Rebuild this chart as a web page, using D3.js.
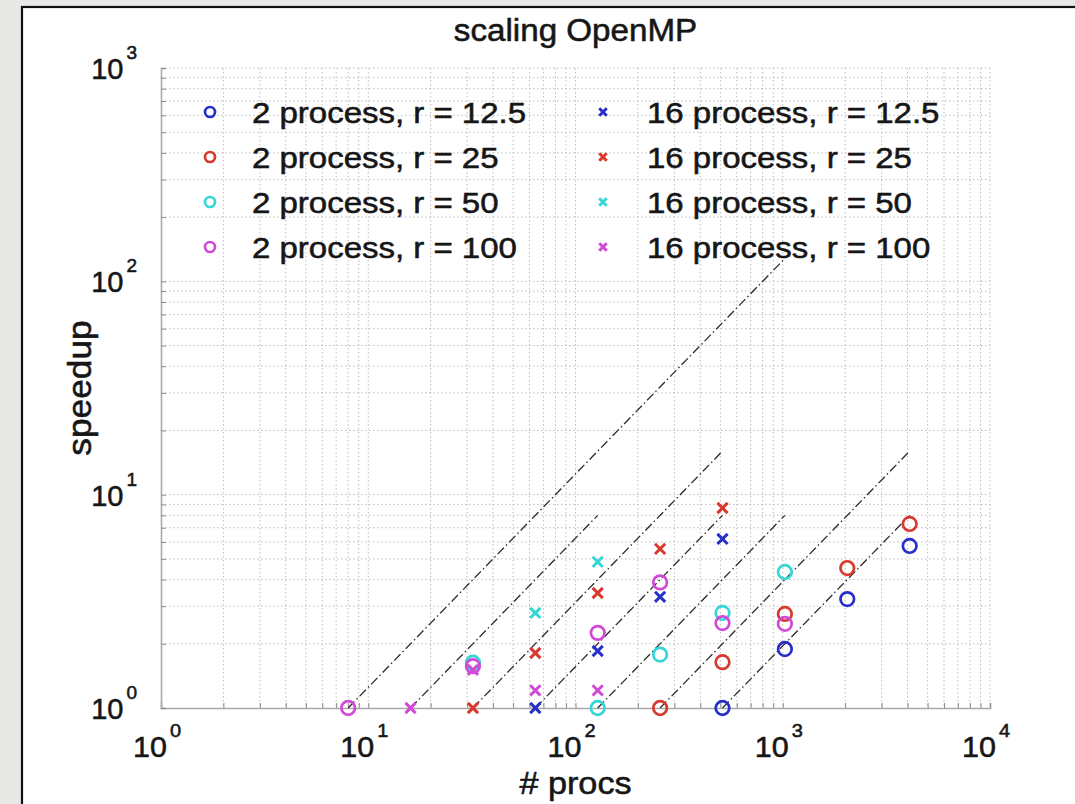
<!DOCTYPE html>
<html>
<head>
<meta charset="utf-8">
<script src="https://cdn.jsdelivr.net/npm/d3@7"></script>
<style>
  html, body { margin: 0; padding: 0; background: #e8e9e7; }
  svg { display: block; }
  text { font-family: "Liberation Sans", Arial, Helvetica, sans-serif; fill: #161616; stroke: #161616; stroke-width: 0.55px; }
</style>
</head>
<body>
<svg id="chart" width="1075" height="804"></svg>
<script>
// ---- data -------------------------------------------------------------
const xTickValues = [1, 10, 100, 1000, 10000];
const yTickValues = [1, 10, 100, 1000];
const xTickExponents = ["0", "1", "2", "3", "4"];
const yTickExponents = ["0", "1", "2", "3"];

const seriesLabels = [
  "2 process, r = 12.5", "2 process, r = 25", "2 process, r = 50", "2 process, r = 100",
  "16 process, r = 12.5", "16 process, r = 25", "16 process, r = 50", "16 process, r = 100"
];
const seriesColors = ["#2630c8", "#d8392e", "#35d6d8", "#d14ad6",
                      "#2630c8", "#d8392e", "#35d6d8", "#d14ad6"];
const seriesMarkers = ["o", "o", "o", "o", "x", "x", "x", "x"];

// 2 process runs
const procs2r12  = [512, 1024, 2048, 4096];
const speed2r12  = [1.0, 1.89, 3.24, 5.75];
const procs2r25  = [256, 512, 1024, 2048, 4096];
const speed2r25  = [1.0, 1.64, 2.76, 4.53, 7.29];
const procs2r50  = [32, 128, 256, 512, 1024];
const speed2r50  = [1.63, 1.0, 1.78, 2.79, 4.34];
const procs2r100 = [8, 32, 128, 256, 512, 1024];
const speed2r100 = [1.0, 1.57, 2.25, 3.88, 2.50, 2.48];

// 16 process runs
const procs16r12  = [64, 128, 256, 512];
const speed16r12  = [1.0, 1.85, 3.32, 6.20];
const procs16r25  = [32, 64, 128, 256, 512];
const speed16r25  = [1.0, 1.81, 3.46, 5.57, 8.66];
const procs16r50  = [64, 128];
const speed16r50  = [2.79, 4.84];
const procs16r100 = [16, 32, 64, 128];
const speed16r100 = [1.0, 1.51, 1.21, 1.21];

// ideal (linear) speedup references: start and end processor counts
const idealStart = [8, 16, 32, 64, 128, 256, 512];
const idealEnd   = [1024, 128, 512, 512, 1024, 4096, 4096];

const seriesProcs = [procs2r12, procs2r25, procs2r50, procs2r100,
                     procs16r12, procs16r25, procs16r50, procs16r100];
const seriesSpeed = [speed2r12, speed2r25, speed2r50, speed2r100,
                     speed16r12, speed16r25, speed16r50, speed16r100];

// ---- layout -----------------------------------------------------------
const svg = d3.select("#chart");
const plotLeft = 161, plotRight = 990, plotTop = 68, plotBottom = 708;

const x = d3.scaleLog().domain([1, 10000]).range([plotLeft, plotRight]);
const y = d3.scaleLog().domain([1, 1000]).range([plotBottom, plotTop]);

// figure panel
svg.append("rect").attr("x", 22).attr("y", 7).attr("width", 1100).attr("height", 900)
  .attr("fill", "#ffffff").attr("stroke", "#111").attr("stroke-width", 2.2);

// text drawn with a slight horizontal widening
function wideText(parent, tx, ty, str, size, anchor, stretch, rotate) {
  const g = parent.append("g")
    .attr("transform", `translate(${tx},${ty})` + (rotate ? ` rotate(${rotate})` : "") + ` scale(${stretch},1)`);
  return g.append("text").attr("text-anchor", anchor).attr("font-size", size).text(str);
}

// ---- grid -------------------------------------------------------------
const xGridValues = x.ticks();
const yGridValues = y.ticks();
const grid = svg.append("g").attr("stroke", "#bdbdbd").attr("stroke-width", 1)
  .attr("stroke-dasharray", "1.5,2.5").attr("fill", "none");
grid.selectAll("line.gx").data(xGridValues.filter(v => v > 1)).join("line")
  .attr("x1", d => x(d)).attr("x2", d => x(d)).attr("y1", plotTop).attr("y2", plotBottom);
grid.selectAll("line.gy").data(yGridValues.filter(v => v > 1)).join("line")
  .attr("y1", d => y(d)).attr("y2", d => y(d)).attr("x1", plotLeft).attr("x2", plotRight);

// ---- axes -------------------------------------------------------------
const xAxis = svg.append("g").attr("transform", `translate(0,${plotBottom})`)
  .call(d3.axisBottom(x).tickValues(xGridValues).tickSize(-5).tickFormat(""));
const yAxis = svg.append("g").attr("transform", `translate(${plotLeft},0)`)
  .call(d3.axisLeft(y).tickValues(yGridValues).tickSize(-5).tickFormat(""));
[xAxis, yAxis].forEach(a => {
  a.select(".domain").attr("stroke", "#a9a9a9").attr("stroke-width", 1.6);
  a.selectAll(".tick line").attr("stroke", "#8a8a8a").attr("stroke-width", 1);
});

// tick labels: 10 with superscript exponent
xTickValues.forEach((v, i) => {
  const t = wideText(svg, x(v) - 4, plotBottom + 49, "", 29, "middle", 1.05);
  t.append("tspan").text("10");
  t.append("tspan").attr("font-size", 19).attr("dx", 3).attr("dy", -20).text(xTickExponents[i]);
});
yTickValues.forEach((v, i) => {
  const t = wideText(svg, plotLeft - 24, y(v) + 11, "", 29, "end", 1.0);
  t.append("tspan").text("10");
  t.append("tspan").attr("font-size", 19).attr("dx", 3).attr("dy", -20).text(yTickExponents[i]);
});

// ---- titles -----------------------------------------------------------
wideText(svg, (plotLeft + plotRight) / 2, 41, "scaling OpenMP", 31, "middle", 1.07);
wideText(svg, (plotLeft + plotRight) / 2, 794, "# procs", 32, "middle", 1.07);
wideText(svg, 91, 388, "speedup", 33, "middle", 1.07, -90);

// ---- ideal speedup lines ------------------------------------------------
const ideal = idealStart.map((s, i) => [[s, 1], [idealEnd[i], idealEnd[i] / s]]);
const lineGen = d3.line().x(d => x(d[0])).y(d => y(d[1]));
svg.append("g").selectAll("path").data(ideal).join("path")
  .attr("d", lineGen).attr("fill", "none").attr("stroke", "#2b2b2b")
  .attr("stroke-width", 1.3).attr("stroke-dasharray", "9,3,1.5,3");

// ---- markers ------------------------------------------------------------
function drawMarker(g, kind, cx, cy, color, size) {
  if (kind === "o") {
    g.append("circle").attr("cx", cx).attr("cy", cy).attr("r", size)
      .attr("fill", "none").attr("stroke", color).attr("stroke-width", 2.7);
  } else {
    const h = size * 0.75;
    g.append("path")
      .attr("d", `M${cx - h},${cy - h}L${cx + h},${cy + h}M${cx - h},${cy + h}L${cx + h},${cy - h}`)
      .attr("stroke", color).attr("stroke-width", 3).attr("fill", "none");
  }
}
const marks = svg.append("g");
seriesProcs.forEach((ps, si) => {
  ps.forEach((p, j) => {
    drawMarker(marks, seriesMarkers[si], x(p), y(seriesSpeed[si][j]), seriesColors[si], 6.8);
  });
});

// ---- legend -----------------------------------------------------------
const legendCols = [[210, 252], [603, 647]];
const legendRows = [112, 157, 202, 247];
const legend = svg.append("g");
seriesLabels.forEach((lab, i) => {
  const col = legendCols[Math.floor(i / 4)];
  const ry = legendRows[i % 4];
  drawMarker(legend, seriesMarkers[i], col[0], ry, seriesColors[i], 5);
  wideText(legend, col[1], ry + 11, lab, 30, "start", 1.1);
});
</script>
</body>
</html>
